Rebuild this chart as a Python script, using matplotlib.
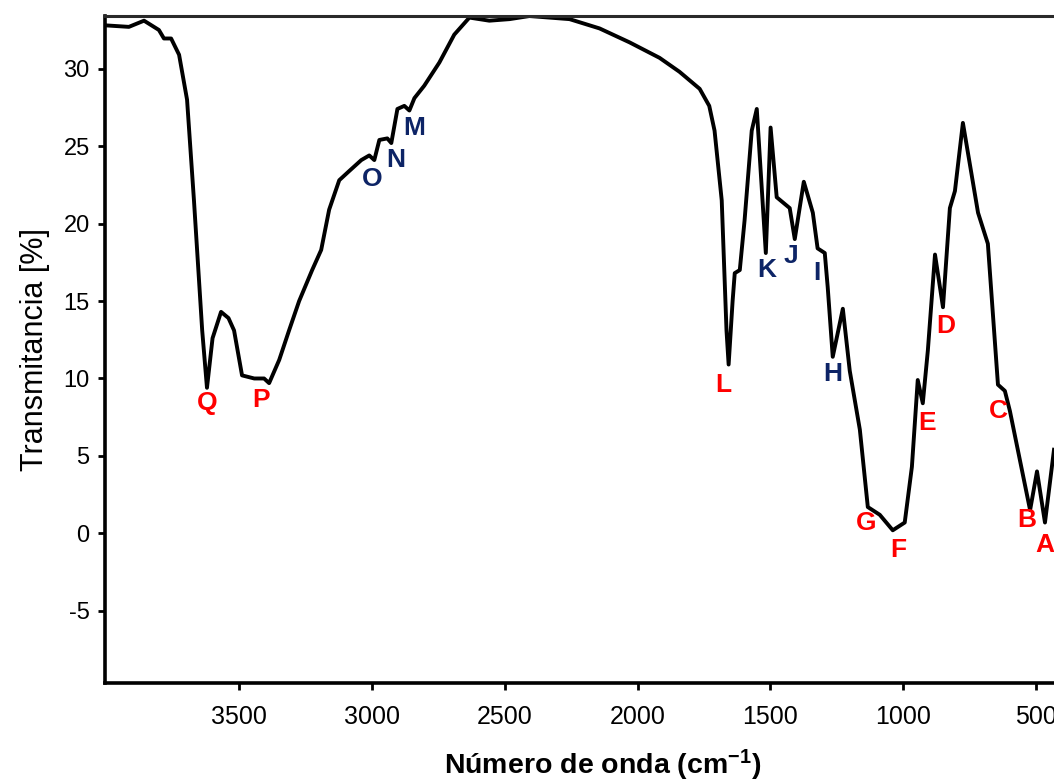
import matplotlib
matplotlib.use('Agg')
from matplotlib import pyplot as plt
import numpy as np

plt.rcParams['font.family'] = ['Liberation Sans', 'DejaVu Sans']
plt.rcParams['mathtext.fontset'] = 'custom'
plt.rcParams['mathtext.rm'] = 'Liberation Sans:bold'
plt.rcParams['mathtext.default'] = 'rm'
plt.rcParams['axes.unicode_minus'] = False

# espectro IR (numero de onda, transmitancia)
wavenumber = np.array([
    4005, 3915, 3858, 3802, 3783, 3756, 3726, 3696, 3670, 3639, 3621, 3600,
    3568, 3540, 3519, 3489, 3443, 3406, 3387, 3349, 3312, 3274, 3225, 3191,
    3161, 3123, 3085, 3040, 3010, 2991, 2972, 2942, 2927, 2904, 2878, 2859,
    2840, 2803, 2746, 2690, 2633, 2558, 2482, 2407, 2256, 2143, 2030, 1917,
    1842, 1766, 1730, 1710, 1683, 1665, 1657, 1642, 1634, 1615, 1597, 1570,
    1551, 1517, 1499, 1476, 1427, 1408, 1374, 1340, 1322, 1295, 1284, 1265,
    1227, 1201, 1163, 1133, 1088, 1039, 994, 967, 945, 926, 907, 880, 850,
    824, 805, 775, 718, 681, 643, 617, 598, 522, 496, 466, 432])
transmittance = np.array([
    32.8, 32.7, 33.1, 32.5, 31.95, 31.95, 30.9, 28.0, 21.5, 13.1, 9.4, 12.6,
    14.3, 13.9, 13.1, 10.2, 10.0, 10.0, 9.7, 11.2, 13.1, 15.0, 17.0, 18.3,
    20.9, 22.8, 23.4, 24.1, 24.4, 24.1, 25.4, 25.5, 25.2, 27.4, 27.6, 27.3,
    28.1, 28.9, 30.4, 32.2, 33.3, 33.1, 33.2, 33.4, 33.2, 32.6, 31.7, 30.7,
    29.8, 28.7, 27.6, 26.0, 21.5, 13.1, 10.9, 15.0, 16.8, 17.0, 20.2, 26.0,
    27.4, 18.1, 26.2, 21.7, 21.0, 19.0, 22.7, 20.7, 18.4, 18.1, 15.9, 11.4,
    14.5, 10.5, 6.7, 1.7, 1.2, 0.2, 0.7, 4.3, 9.9, 8.4, 11.8, 18.0, 14.6,
    21.0, 22.1, 26.5, 20.7, 18.7, 9.6, 9.2, 7.9, 1.5, 4.0, 0.7, 5.4])

# etiquetas de bandas
band_names = ['Q', 'P', 'O', 'N', 'M', 'L', 'K', 'J', 'I', 'H',
              'G', 'F', 'E', 'D', 'C', 'B', 'A']
band_x = [3621, 3417, 2999, 2912, 2840, 1676, 1513, 1423, 1325, 1265,
          1140, 1020, 910, 838, 640, 534, 466]
band_y = [8.4, 8.6, 22.9, 24.1, 26.2, 9.6, 17.0, 17.9, 16.8, 10.3,
          0.65, -1.1, 7.1, 13.4, 7.9, 0.85, -0.75]
band_color = ['red', 'red', 'navy', 'navy', 'navy', 'red', 'navy', 'navy',
              'navy', 'navy', 'red', 'red', 'red', 'red', 'red', 'red', 'red']
colors = {'red': '#ff0000', 'navy': '#0d2466'}

fig = plt.figure(figsize=(10.54, 7.82), dpi=100)
ax = fig.add_axes([0.0996, 0.1266, 0.9004, 0.8529])

ax.plot(wavenumber, transmittance, color='black', linewidth=2.8,
        solid_joinstyle='round')

for name, x, y, c in zip(band_names, band_x, band_y, band_color):
    ax.text(x, y, name, color=colors[c], fontsize=19, fontweight='bold',
            ha='center', va='center', clip_on=False)

ax.set_xlim(4005, 432)
ax.set_ylim(-9.66, 33.4)
ax.set_xticks([3500, 3000, 2500, 2000, 1500, 1000, 500])
ax.set_yticks([-5, 0, 5, 10, 15, 20, 25, 30])

ax.spines['right'].set_visible(False)
ax.spines['left'].set_linewidth(2.6)
ax.spines['bottom'].set_linewidth(2.6)
ax.spines['top'].set_linewidth(2.2)
ax.spines['top'].set_color('#2a2a2a')
ax.spines['top'].set_linestyle((0, (10, 1)))

ax.tick_params(axis='x', which='major', labelsize=18, length=5, width=2, pad=11)
ax.tick_params(axis='y', which='major', labelsize=17, length=5, width=2, pad=6)

ax.set_xlabel('Número de onda (cm$^{-1}$)', fontsize=20.5, fontweight='bold')
ax.xaxis.set_label_coords(0.524, -0.097)
ax.set_ylabel('Transmitancia [%]', fontsize=22, labelpad=10)

fig.savefig('out.png', dpi=100)
